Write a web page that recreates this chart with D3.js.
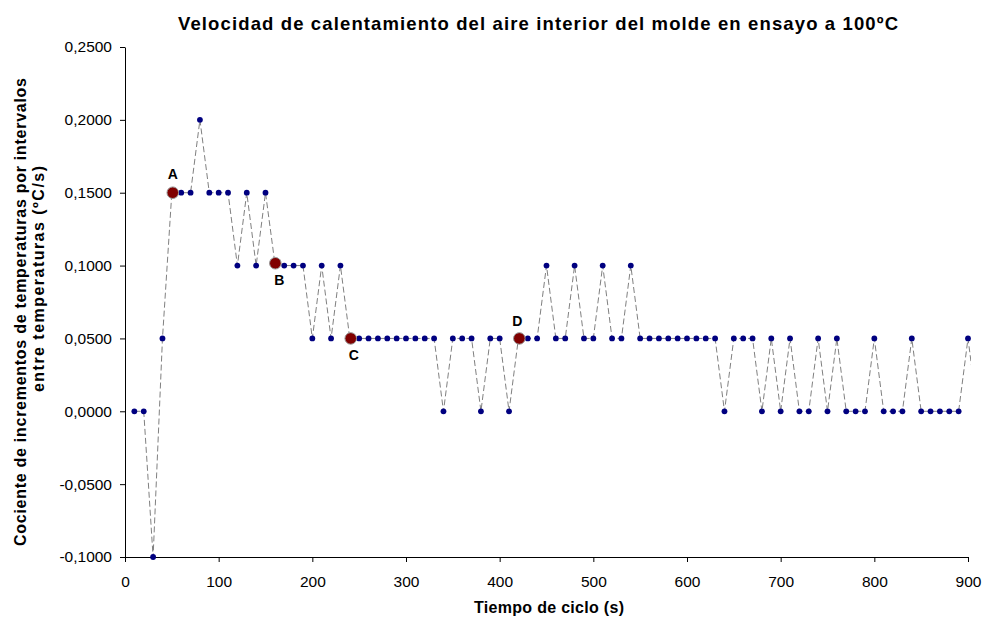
<!DOCTYPE html>
<html>
<head>
<meta charset="utf-8">
<script src="https://cdn.jsdelivr.net/npm/d3@7"></script>
<style>
  body { margin: 0; background: #fff; }
  svg { font-family: "Liberation Sans", Arial, sans-serif; }
</style>
</head>
<body>
<svg id="chart" width="985" height="621"></svg>
<script>
// Data (time in s, rate in ºC/s)
const times = [10, 20, 30, 40, 50, 60, 70, 80, 90, 100, 110, 120, 130, 140, 150, 160, 170, 180, 190, 200,
  210, 220, 230, 240, 250, 260, 270, 280, 290, 300, 310, 320, 330, 340, 350, 360, 370, 380, 390, 400,
  410, 420, 430, 440, 450, 460, 470, 480, 490, 500, 510, 520, 530, 540, 550, 560, 570, 580, 590, 600,
  610, 620, 630, 640, 650, 660, 670, 680, 690, 700, 710, 720, 730, 740, 750, 760, 770, 780, 790, 800,
  810, 820, 830, 840, 850, 860, 870, 880, 890, 900, 910];
const rates = [0, 0, -0.1, 0.05, 0.15, 0.15, 0.15, 0.2, 0.15, 0.15, 0.15, 0.1, 0.15, 0.1, 0.15, 0.1016, 0.1, 0.1, 0.1, 0.05,
  0.1, 0.05, 0.1, 0.05, 0.05, 0.05, 0.05, 0.05, 0.05, 0.05, 0.05, 0.05, 0.05, 0, 0.05, 0.05, 0.05, 0, 0.05, 0.05,
  0, 0.05, 0.05, 0.05, 0.1, 0.05, 0.05, 0.1, 0.05, 0.05, 0.1, 0.05, 0.05, 0.1, 0.05, 0.05, 0.05, 0.05, 0.05, 0.05,
  0.05, 0.05, 0.05, 0, 0.05, 0.05, 0.05, 0, 0.05, 0, 0.05, 0, 0, 0.05, 0, 0.05, 0, 0, 0, 0.05,
  0, 0, 0, 0.05, 0, 0, 0, 0, 0, 0.05, 0];

// Highlighted points
const markLabels = ["A", "B", "C", "D"];
const markTimes = [51, 160.5, 241, 421];
const markRates = [0.15, 0.1016, 0.05, 0.05];

const xTicks = [0, 100, 200, 300, 400, 500, 600, 700, 800, 900];
const yTicks = [-0.1, -0.05, 0, 0.05, 0.1, 0.15, 0.2, 0.25];

const margin = { left: 125, right: 17, top: 47, bottom: 64 };
const width = 985 - margin.left - margin.right;
const height = 621 - margin.top - margin.bottom;

const svg = d3.select("#chart");
const g = svg.append("g").attr("transform", `translate(${margin.left},${margin.top})`);

const x = d3.scaleLinear().domain([0, 900]).range([0, width]);
const y = d3.scaleLinear().domain([-0.1, 0.25]).range([height, 0]);

const fmt = d => d3.format(".4f")(d).replace(".", ",").replace("−", "-");

// Axes
const yAxis = g.append("g")
  .call(d3.axisLeft(y).tickValues(yTicks).tickSize(5).tickSizeOuter(0).tickFormat(fmt));
const xAxis = g.append("g")
  .attr("transform", `translate(0,${height})`)
  .call(d3.axisBottom(x).tickValues(xTicks).tickSize(5).tickSizeOuter(0));

[yAxis, xAxis].forEach(a => {
  a.select(".domain").attr("stroke", "#000");
  a.selectAll(".tick line").attr("stroke", "#000");
  a.selectAll(".tick text").attr("fill", "#000")
    .style("font-size", "15.5px").style("font-family", "Liberation Sans, Arial, sans-serif");
});
yAxis.selectAll(".tick text").attr("x", -13);
xAxis.selectAll(".tick text").attr("y", 19);

// Clip so the trailing segment stops at the plot edge
svg.append("defs").append("clipPath").attr("id", "plot-clip")
  .append("rect").attr("x", 0).attr("y", -10).attr("width", width + 3).attr("height", height + 20);

const pts = times.map((t, i) => ({ t, v: rates[i] }));

const line = d3.line().x(d => x(d.t)).y(d => y(d.v));

g.append("path")
  .datum(pts)
  .attr("clip-path", "url(#plot-clip)")
  .attr("fill", "none")
  .attr("stroke", "#808080")
  .attr("stroke-width", 1)
  .attr("stroke-dasharray", "6,3")
  .attr("d", line);

g.selectAll(".dot")
  .data(pts.filter(d => d.t <= 900))
  .enter().append("circle")
  .attr("class", "dot")
  .attr("cx", d => x(d.t))
  .attr("cy", d => y(d.v))
  .attr("r", 2.9)
  .attr("fill", "#000080");

// Highlighted points A-D
const marks = markLabels.map((l, i) => ({ l, t: markTimes[i], v: markRates[i] }));
g.selectAll(".mark")
  .data(marks)
  .enter().append("circle")
  .attr("class", "mark")
  .attr("cx", d => x(d.t))
  .attr("cy", d => y(d.v))
  .attr("r", 5.8)
  .attr("fill", "#800000")
  .attr("stroke", "#999")
  .attr("stroke-width", 1);

const labelOffsets = { A: [0, -14], B: [4, 22], C: [3, 22], D: [-2, -12] };
g.selectAll(".mark-label")
  .data(marks)
  .enter().append("text")
  .attr("class", "mark-label")
  .attr("x", d => x(d.t) + labelOffsets[d.l][0])
  .attr("y", d => y(d.v) + labelOffsets[d.l][1])
  .attr("text-anchor", "middle")
  .style("font-size", "14px")
  .style("font-weight", "bold")
  .text(d => d.l);

// Titles
svg.append("text")
  .attr("x", 538).attr("y", 30)
  .attr("text-anchor", "middle")
  .attr("textLength", 720).attr("lengthAdjust", "spacing")
  .style("font-size", "18.5px").style("font-weight", "bold")
  .text("Velocidad de calentamiento del aire interior del molde en ensayo a 100ºC");

svg.append("text")
  .attr("x", 549).attr("y", 613)
  .attr("text-anchor", "middle")
  .attr("textLength", 150).attr("lengthAdjust", "spacing")
  .style("font-size", "16px").style("font-weight", "bold")
  .text("Tiempo de ciclo (s)");

svg.append("text")
  .attr("transform", "translate(26,312) rotate(-90)")
  .attr("text-anchor", "middle")
  .attr("textLength", 468).attr("lengthAdjust", "spacing")
  .style("font-size", "16px").style("font-weight", "bold")
  .text("Cociente de incrementos de temperaturas por intervalos");
svg.append("text")
  .attr("transform", "translate(44,279) rotate(-90)")
  .attr("text-anchor", "middle")
  .attr("textLength", 226).attr("lengthAdjust", "spacing")
  .style("font-size", "16px").style("font-weight", "bold")
  .text("entre temperaturas (ºC/s)");
</script>
</body>
</html>
